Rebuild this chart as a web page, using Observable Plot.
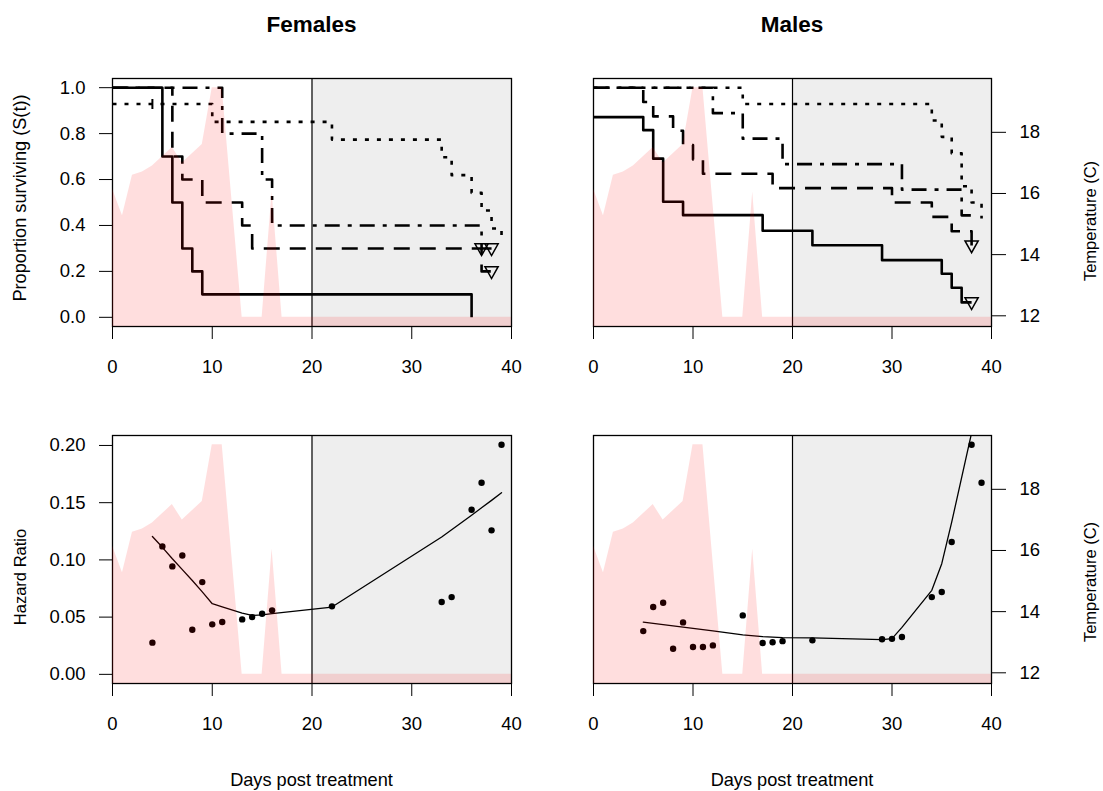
<!DOCTYPE html>
<html><head><meta charset="utf-8">
<script src="https://cdn.jsdelivr.net/npm/d3@7"></script>
<script src="https://cdn.jsdelivr.net/npm/@observablehq/plot@0.6"></script>
<style>
body{margin:0;background:#fff;font-family:"Liberation Sans",Arial,sans-serif;}
#root{position:relative;width:1103px;height:791px;overflow:hidden;background:#fff;}
.layer{position:absolute;}
.txt{position:absolute;white-space:nowrap;color:#000;transform:translate(-50%,-50%);}
.rot{transform:translate(-50%,-50%) rotate(-90deg);}
</style></head><body><div id="root"></div>
<script>
// ---------------- DATA ----------------
const xTicks = [0, 10, 20, 30, 40];
const survTicks = [0, 0.2, 0.4, 0.6, 0.8, 1.0];
const hazTicks = [0, 0.05, 0.10, 0.15, 0.20];
const tempTicks = [12, 14, 16, 18];
const shadeFrom = 20, shadeTo = 40;

const tempDays = [0,1,2,3,4,5,6,7,8,9,10,11,12,13,14,15,16,17,18,19,20,21,22,23,24,25,26,27,28,29,30,31,32,33,34,35,36,37,38,39,40];
const tempValues = [16.15,15.27,16.6,16.7,16.9,17.2,17.5,17.0,17.3,17.6,19.46,19.46,15.7,11.95,11.95,11.95,16.05,
  11.95,11.95,11.95,11.95,11.95,11.95,11.95,11.95,11.95,11.95,11.95,11.95,11.95,11.95,11.95,11.95,11.95,11.95,11.95,11.95,11.95,11.95,11.95,11.95];

// Females survival (step curves)
const fSolidT = [0,5,6,7,8,9,36];
const fSolidS = [1,0.7,0.5,0.3,0.2,0.1,0];
const fDashT = [0,6,7,9,13,14,37,38];
const fDashS = [1,0.7,0.6,0.5,0.4,0.3,0.2,0.2];
const fDotDashT = [0,11,15,16,37,38];
const fDotDashS = [1,0.8,0.6,0.4,0.3,0.3];
const fDotT = [0,10,22,33,34,36,37,38,39];
const fDotS = [0.929,0.851,0.774,0.697,0.619,0.542,0.465,0.387,0.325];
const fTriT = [37,38,38];
const fTriS = [0.3,0.3,0.2];
const fCensT = [4];
const fCensS = [0.929];

// Males survival
const mSolidT = [0,5,6,7,9,17,22,29,35,36,37,38];
const mSolidS = [0.872,0.815,0.691,0.503,0.445,0.377,0.314,0.249,0.19,0.129,0.065,0.065];
const mDashT = [0,5,6,8,9,10,11,18,30,34,36,38];
const mDashS = [1,0.9375,0.875,0.8125,0.75,0.6875,0.625,0.5625,0.5,0.4375,0.375,0.3125];
const mDotDashT = [0,12,15,19,31,37,38];
const mDotDashS = [1,0.889,0.778,0.667,0.556,0.444,0.444];
const mDotT = [0,15,34,35,36,37,38,39];
const mDotS = [1,0.929,0.857,0.786,0.714,0.571,0.5,0.43];
const mTriT = [38,38];
const mTriS = [0.3125,0.065];

// Females hazard ratio
const fHazDays = [4,5,6,7,8,9,10,11,13,14,15,16,22,33,34,36,37,38,39];
const fHazVals = [0.0277,0.1118,0.0943,0.1039,0.039,0.0806,0.0437,0.0457,0.048,0.050,0.053,0.0559,0.0594,0.0632,0.0675,0.1438,0.1674,0.1258,0.2006];
const fFitDays = [4,5,6,7,8,9,10,11,13,14,15,16,22,33,34,36,37,38,39];
const fFitVals = [0.1205,0.111,0.101,0.0915,0.082,0.072,0.0617,0.059,0.0535,0.0515,0.052,0.053,0.0588,0.12,0.1264,0.139,0.1455,0.152,0.1587];

// Males hazard ratio
const mHazDays = [5,6,7,8,9,10,11,12,15,17,18,19,22,29,30,31,34,35,36,38,39];
const mHazVals = [0.0378,0.0588,0.0626,0.0224,0.0454,0.0239,0.0239,0.0253,0.0515,0.0274,0.028,0.029,0.0297,0.0306,0.031,0.0326,0.0675,0.0719,0.1156,0.2006,0.1674];
const mFitDays = [5,6,7,8,9,10,11,12,15,17,18,19,22,29,30,31,34,35,36,38,39];
const mFitVals = [0.0457,0.0446,0.0435,0.0424,0.0413,0.0402,0.0391,0.038,0.0345,0.033,0.0325,0.032,0.0318,0.0303,0.0312,0.041,0.0734,0.0967,0.133,0.211,0.26];

// ---------------- BUILD ----------------
const FONT = '"Liberation Sans", Arial, sans-serif';
const tempDomain = [11.65, 19.76];
const survDomain = [-0.04, 1.04];
const hazDomain = [-0.008, 0.2087];
const zip = (xs, ys, kx, ky) => xs.map((v, i) => ({[kx]: v, [ky]: ys[i]}));
const tempRows = zip(tempDays, tempValues, "day", "temp");

const triDown = {draw(ctx, size) {
  const r = Math.sqrt(size / Math.PI);
  ctx.moveTo(-1.2 * r, -0.85 * r); ctx.lineTo(1.2 * r, -0.85 * r); ctx.lineTo(0, 1.3 * r); ctx.closePath();
}};
const vTick = {draw(ctx, size) {
  const r = Math.sqrt(size / Math.PI);
  ctx.moveTo(0, -r); ctx.lineTo(0, r);
}};

const LW = 2.6;
function survMarks(solidT, solidS, dashT, dashS, ddT, ddS, dotT, dotS, triT, triS, censT, censS) {
  const base = {x: "t", y: "s", curve: "step-after", stroke: "black", strokeWidth: LW, strokeLinecap: "butt"};
  const m = [
    Plot.line(zip(dotT, dotS, "t", "s"), {...base, strokeDasharray: "4,8"}),
    Plot.line(zip(ddT, ddS, "t", "s"), {...base, strokeDasharray: "15,8,4,8"}),
    Plot.line(zip(dashT, dashS, "t", "s"), {...base, strokeDasharray: "16,10"}),
    Plot.line(zip(solidT, solidS, "t", "s"), {...base}),
    Plot.dot(zip(triT, triS, "t", "s"), {x: "t", y: "s", symbol: triDown, r: 5.5, stroke: "black", fill: "none", strokeWidth: 1.5})
  ];
  if (censT) m.push(Plot.dot(zip(censT, censS, "t", "s"), {x: "t", y: "s", symbol: vTick, r: 5, stroke: "black", fill: "none", strokeWidth: 2}));
  return m;
}
function hazMarks(pd, pv, fd, fv) {
  return [
    Plot.line(zip(fd, fv, "d", "v"), {x: "d", y: "v", stroke: "black", strokeWidth: 1.3, clip: true}),
    Plot.dot(zip(pd, pv, "d", "v"), {x: "d", y: "v", r: 3.2, fill: "black", stroke: "none"})
  ];
}

const root = document.getElementById("root");
function addText(str, x, y, size, opts = {}) {
  const d = document.createElement("div");
  d.className = "txt" + (opts.rot ? " rot" : "");
  d.textContent = str;
  d.style.left = x + "px"; d.style.top = y + "px";
  d.style.fontSize = size + "px";
  d.style.fontFamily = FONT;
  if (opts.bold) d.style.fontWeight = "bold";
  root.appendChild(d);
}

function makePanel({left, top, w, h, yDomain, yTicks, yFmt, leftAxis, rightAxis, marks}) {
  const ML = 75, MR = 75, MT = 10, MB = 60;
  const W = w + ML + MR, H = h + MT + MB;
  const common = {width: W, height: H, marginLeft: ML, marginRight: MR, marginTop: MT, marginBottom: MB};
  const st = {background: "transparent", fontFamily: FONT, fontSize: "18.5px", color: "black", overflow: "visible"};
  const main = Plot.plot({
    ...common, style: st,
    x: {domain: [0, 40]},
    y: {domain: yDomain, axis: leftAxis ? undefined : null},
    marks: [
      Plot.rect([{a: shadeFrom, b: shadeTo}], {x1: "a", x2: "b", y1: () => yDomain[0], y2: () => yDomain[1], fill: "#eeeeee"}),
      Plot.ruleX([shadeFrom], {stroke: "black", strokeWidth: 1.2}),
      ...marks,
      Plot.frame({stroke: "black", strokeWidth: 1.3}),
      Plot.axisX({ticks: xTicks, tickSize: 13, tickPadding: 20, label: null, fontSize: 18.5, tickFormat: d => String(d)}),
      leftAxis ? Plot.axisY({ticks: yTicks, tickFormat: yFmt, tickSize: 13, tickPadding: 14, label: null, fontSize: 18.5}) : null
    ]
  });
  const temp = Plot.plot({
    ...common, style: st,
    x: {domain: [0, 40], axis: null},
    y: {domain: tempDomain, axis: rightAxis ? undefined : null},
    marks: [
      Plot.areaY(tempRows, {x: "day", y1: () => tempDomain[0], y2: "temp", fill: "red", fillOpacity: 0.13}),
      rightAxis ? Plot.axisY({anchor: "right", ticks: tempTicks, tickSize: 14, tickPadding: 14, label: null, fontSize: 18.5}) : null
    ]
  });
  for (const svg of [main, temp]) {
    const wrap = document.createElement("div");
    wrap.className = "layer";
    wrap.style.left = (left - ML) + "px";
    wrap.style.top = (top - MT) + "px";
    wrap.appendChild(svg);
    root.appendChild(wrap);
  }
}

const fmt1 = d3.format(".1f"), fmt2 = d3.format(".2f");
makePanel({left: 112, top: 78, w: 399, h: 248, yDomain: survDomain, yTicks: survTicks, yFmt: fmt1, leftAxis: true, rightAxis: false,
  marks: survMarks(fSolidT, fSolidS, fDashT, fDashS, fDotDashT, fDotDashS, fDotT, fDotS, fTriT, fTriS, fCensT, fCensS)});
makePanel({left: 593, top: 78, w: 398, h: 248, yDomain: survDomain, yTicks: survTicks, yFmt: fmt1, leftAxis: false, rightAxis: true,
  marks: survMarks(mSolidT, mSolidS, mDashT, mDashS, mDotDashT, mDotDashS, mDotT, mDotS, mTriT, mTriS)});
makePanel({left: 112, top: 435, w: 399, h: 248, yDomain: hazDomain, yTicks: hazTicks, yFmt: fmt2, leftAxis: true, rightAxis: false,
  marks: hazMarks(fHazDays, fHazVals, fFitDays, fFitVals)});
makePanel({left: 593, top: 435, w: 398, h: 248, yDomain: hazDomain, yTicks: hazTicks, yFmt: fmt2, leftAxis: false, rightAxis: true,
  marks: hazMarks(mHazDays, mHazVals, mFitDays, mFitVals)});

addText("Females", 311.5, 25, 22.5, {bold: true});
addText("Males", 792, 25, 22.5, {bold: true});
addText("Proportion surviving (S(t))", 20, 198, 18.2, {rot: true});
addText("Hazard Ratio", 20, 577, 16.5, {rot: true});
addText("Temperature (C)", 1090, 221, 16.5, {rot: true});
addText("Temperature (C)", 1090, 582, 16.5, {rot: true});
addText("Days post treatment", 311.5, 780, 18.2);
addText("Days post treatment", 792, 780, 18.2);
</script>
</body></html>
